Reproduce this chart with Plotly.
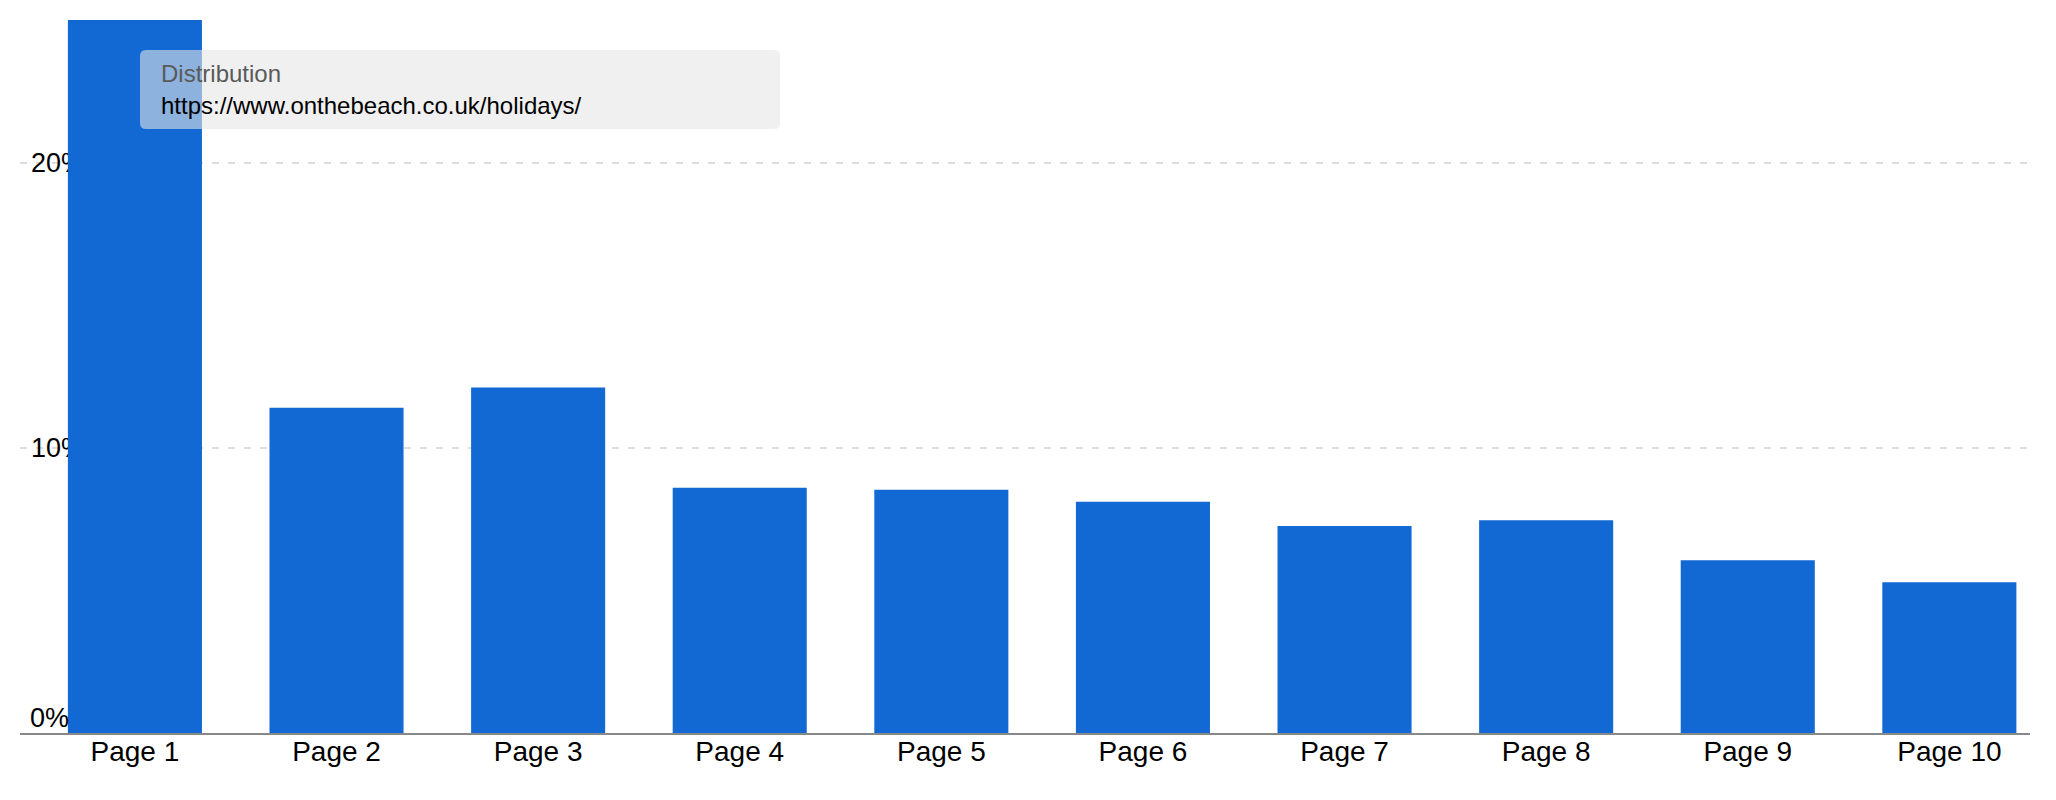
import plotly.graph_objects as go

# --- DATA ---
pages = [f"Page {i}" for i in range(1, 11)]
share_pct = [25.0, 11.40, 12.11, 8.60, 8.53, 8.11, 7.26, 7.46, 6.06, 5.29]

y_ticks = [10, 20]
y_tick_labels = ["10%", "20%"]

tooltip_title = "Distribution"
tooltip_url = "https://www.onthebeach.co.uk/holidays/"

BAR_BLUE = "#1369d4"
FONT = "Liberation Sans, Arial, sans-serif"

# page body has an 8px margin, so the figure is sized to fit inside the window
W, H = 2040, 784
M = dict(l=12, r=18, t=12, b=59)
OFF = 8  # body margin

fig = go.Figure()

fig.add_trace(
    go.Bar(
        x=pages,
        y=share_pct,
        marker=dict(color=BAR_BLUE, line=dict(width=0)),
        hoverinfo="skip",
    )
)

# --- TOOLTIP BOX (rounded rect in paper coords) ---
pw = W - M["l"] - M["r"]
ph = H - M["t"] - M["b"]


def px_x(v):
    # window pixel -> paper x
    return (v - OFF - M["l"]) / pw


def px_y(v):
    # window pixel -> paper y
    return (H - M["b"] - (v - OFF)) / ph


x0, x1 = px_x(140), px_x(780)
y0, y1 = px_y(129), px_y(50)
rx, ry = 6 / pw, 6 / ph
path = (
    f"M {x0 + rx},{y1} L {x1 - rx},{y1} Q {x1},{y1} {x1},{y1 - ry} "
    f"L {x1},{y0 + ry} Q {x1},{y0} {x1 - rx},{y0} "
    f"L {x0 + rx},{y0} Q {x0},{y0} {x0},{y0 + ry} "
    f"L {x0},{y1 - ry} Q {x0},{y1} {x0 + rx},{y1} Z"
)
fig.add_shape(
    type="path",
    path=path,
    xref="paper",
    yref="paper",
    fillcolor="rgba(230,230,230,0.59)",
    line=dict(width=0),
    layer="above",
)

fig.add_annotation(
    x=px_x(161), y=px_y(73), xref="paper", yref="paper",
    text=tooltip_title, showarrow=False, xanchor="left", yanchor="middle",
    xshift=-2,
    font=dict(family=FONT, size=24, color="#5a5a5a"),
)
fig.add_annotation(
    x=px_x(161), y=px_y(105), xref="paper", yref="paper",
    text=tooltip_url, showarrow=False, xanchor="left", yanchor="middle",
    xshift=-2,
    font=dict(family=FONT, size=24, color="#000000"),
)

# 0% label sits just above the baseline
fig.add_annotation(
    x=0, y=0, xref="paper", yref="y",
    text="0%", showarrow=False, xanchor="left", yanchor="bottom",
    xshift=8, yshift=-2,
    font=dict(family=FONT, size=27, color="#000000"),
)

fig.update_layout(
    width=W,
    height=H,
    margin=M,
    plot_bgcolor="white",
    paper_bgcolor="white",
    bargap=0.335,
    showlegend=False,
    font=dict(family=FONT, size=27, color="#000000"),
    xaxis=dict(
        range=[-0.57, 9.40],
        showline=True,
        linecolor="#888888",
        linewidth=2,
        showgrid=False,
        ticks="",
        ticklabelstandoff=-8,
        tickfont=dict(size=28, color="#000000"),
    ),
    yaxis=dict(
        range=[0, 25.0],
        tickvals=y_ticks,
        ticktext=y_tick_labels,
        ticklabelposition="inside",
        ticklabeloverflow="allow",
        ticklabelstandoff=8,
        tickfont=dict(size=27, color="#000000"),
        showgrid=True,
        gridcolor="#dddddd",
        gridwidth=2,
        griddash="7px,9px",
        zeroline=False,
        showline=False,
        layer="below traces",
    ),
)

fig.write_html("out.html")
